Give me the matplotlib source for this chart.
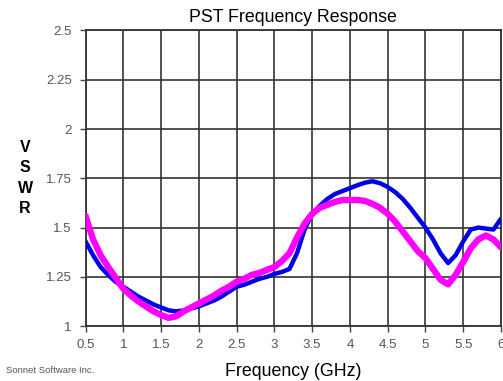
import numpy as np
import matplotlib
matplotlib.use('Agg')
import matplotlib.pyplot as plt

plt.rcParams['font.family'] = ['Liberation Sans', 'DejaVu Sans']

# frequency grid (GHz) and VSWR
freq = [0.5, 0.6, 0.7, 0.8, 0.9, 1.0, 1.1, 1.2, 1.3, 1.4,
        1.5, 1.6, 1.7, 1.8, 1.9, 2.0, 2.1, 2.2, 2.3, 2.4,
        2.5, 2.6, 2.7, 2.8, 2.9, 3.0, 3.1, 3.2, 3.3, 3.4,
        3.5, 3.6, 3.7, 3.8, 3.9, 4.0, 4.1, 4.2, 4.3, 4.4,
        4.5, 4.6, 4.7, 4.8, 4.9, 5.0, 5.1, 5.2, 5.3, 5.4,
        5.5, 5.6, 5.7, 5.8, 5.9, 6.0]

vswr_blue = [1.43, 1.36, 1.30, 1.26, 1.225, 1.20, 1.175, 1.15, 1.13, 1.11,
             1.095, 1.08, 1.075, 1.08, 1.09, 1.10, 1.115, 1.13, 1.15, 1.175,
             1.20, 1.21, 1.225, 1.24, 1.25, 1.265, 1.275, 1.29, 1.37, 1.49,
             1.57, 1.61, 1.645, 1.67, 1.685, 1.70, 1.715, 1.728, 1.735, 1.725,
             1.706, 1.68, 1.645, 1.60, 1.55, 1.50, 1.44, 1.37, 1.32, 1.36,
             1.43, 1.49, 1.50, 1.495, 1.49, 1.545]

vswr_mag = [1.56, 1.44, 1.36, 1.30, 1.245, 1.19, 1.155, 1.125, 1.10, 1.075,
            1.056, 1.042, 1.05, 1.075, 1.095, 1.115, 1.135, 1.155, 1.18, 1.20,
            1.225, 1.24, 1.26, 1.27, 1.285, 1.30, 1.33, 1.37, 1.45, 1.52,
            1.57, 1.60, 1.615, 1.63, 1.64, 1.64, 1.64, 1.635, 1.62, 1.60,
            1.57, 1.53, 1.48, 1.43, 1.38, 1.345, 1.29, 1.235, 1.212, 1.26,
            1.326, 1.395, 1.44, 1.46, 1.44, 1.40]

xticks = [0.5, 1, 1.5, 2, 2.5, 3, 3.5, 4, 4.5, 5, 5.5, 6]
xlabels = ['0.5', '1', '1.5', '2', '2.5', '3', '3.5', '4', '4.5', '5', '5.5', '6']
yticks = [1, 1.25, 1.5, 1.75, 2, 2.25, 2.5]
ylabels = ['1', '1.25', '1.5', '1.75', '2', '2.25', '2.5']

fig = plt.figure(figsize=(5.03, 3.81), dpi=100)
ax = fig.add_axes([0.170, 0.144, 0.826, 0.776])

ax.plot(freq, vswr_blue, color='#0000e6', lw=3.2, solid_capstyle='round',
        zorder=3)
ax.plot(freq, vswr_mag, color='#ff00ff', lw=4.6, solid_capstyle='round',
        zorder=4)

ax.set_xlim(0.5, 6)
ax.set_ylim(1, 2.5)
ax.set_xticks(xticks)
ax.set_xticklabels(xlabels)
ax.set_yticks(yticks)
ax.set_yticklabels(ylabels)
ax.tick_params(direction='out', length=4, width=1, color='#444444',
               labelcolor='#555555', labelsize=9.5)
ax.tick_params(axis='y', pad=6)
ax.tick_params(axis='x', pad=5)
ax.grid(True, color='#333333', lw=1.2)
ax.set_axisbelow(True)
for s in ax.spines.values():
    s.set_color('#333333')
    s.set_linewidth(1.3)

ax.set_title('PST Frequency Response', fontsize=12.8, pad=6)
ax.set_xlabel('Frequency (GHz)', fontsize=12.8, labelpad=9)
# the y label is stacked letter by letter
fig.text(0.05, 0.533, 'V\nS\nW\nR', ha='center', va='center',
         fontsize=11.5, fontweight='bold', linespacing=1.45)
fig.text(0.012, 0.022, 'Sonnet Software Inc.', fontsize=6.8, color='#555555')

fig.savefig('out.png', dpi=100)
